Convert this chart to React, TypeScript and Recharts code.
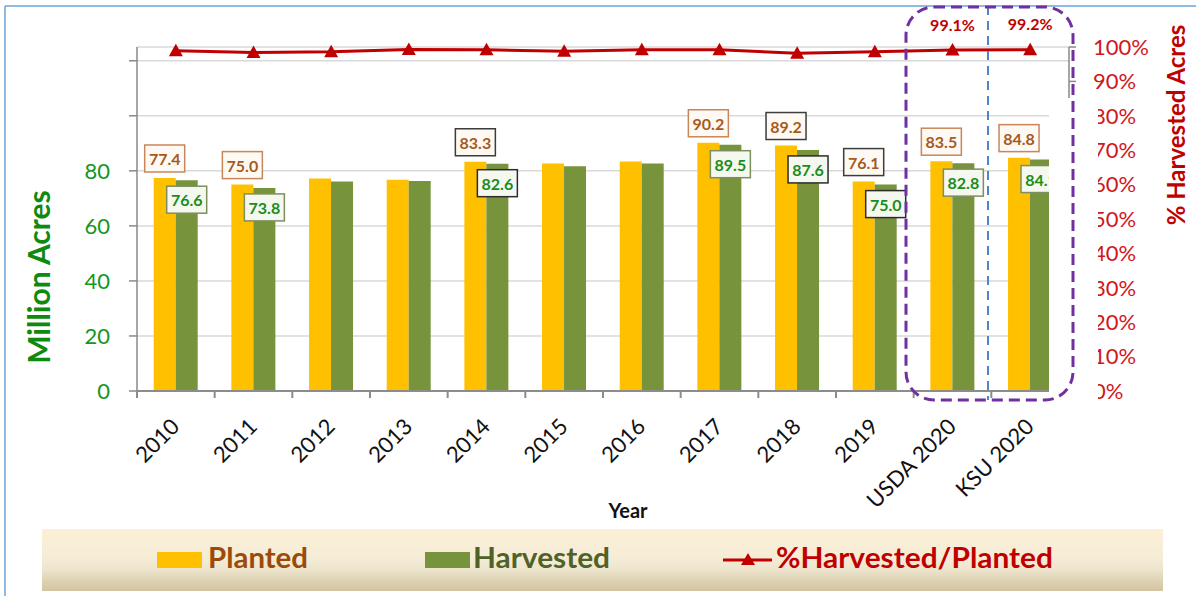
import React from 'react';
import { ComposedChart, Bar, Line, XAxis, YAxis, CartesianGrid, LabelList, Legend } from 'recharts';

const categories = ['2010', '2011', '2012', '2013', '2014', '2015', '2016', '2017', '2018', '2019', 'USDA 2020', 'KSU 2020'];
const planted = [77.4, 75.0, 77.2, 76.8, 83.3, 82.7, 83.4, 90.2, 89.2, 76.1, 83.5, 84.8];
const harvested = [76.6, 73.8, 76.1, 76.3, 82.6, 81.7, 82.7, 89.5, 87.6, 75.0, 82.8, 84.1];
const pctHarvested = [98.9, 98.4, 98.6, 99.3, 99.2, 98.8, 99.2, 99.2, 98.2, 98.6, 99.1, 99.2];
const barLabelShown = [true, true, false, false, true, false, false, true, true, true, true, true];
const darkLabelBorder = [false, false, false, false, true, false, false, false, true, true, false, false];
const pctLabelShown = [false, false, false, false, false, false, false, false, false, false, true, true];
const leftTicks = [0, 20, 40, 60, 80, 100, 120];
const leftTickMaxLabel = 80;
const rightTicks = [0, 10, 20, 30, 40, 50, 60, 70, 80, 90, 100];

const W = 1196;
const H = 596;
const PLOT_L = 137;
const PLOT_R = 1069;
const PLOT_T = 47;
const PLOT_B = 391;
const FONT = 'Lato, "Open Sans", sans-serif';

const data = categories.map((c, i) => ({
  name: c,
  planted: planted[i],
  harvested: harvested[i],
  pct: pctHarvested[i],
}));

const vbOf = (p: any) => {
  const vb = p.viewBox || {};
  return {
    x: p.x ?? vb.x,
    y: p.y ?? vb.y,
    width: p.width ?? vb.width ?? 0,
    height: p.height ?? vb.height ?? 0,
  };
};

const PlantedLabel = (props: any) => {
  const { index, value } = props;
  if (!barLabelShown[index]) return null;
  const { x, y, width } = vbOf(props);
  const cx = x + width / 2;
  const bw = 40;
  const bh = 27;
  const top = y - 6 - bh;
  return (
    <g>
      <rect x={cx - bw / 2} y={top} width={bw} height={bh} fill="#FFF9F3" stroke={darkLabelBorder[index] ? '#3c3c3c' : '#C8875A'} strokeWidth={1.5} />
      <text x={cx} y={top + bh / 2} dominantBaseline="central" textAnchor="middle" fontSize={16} fontWeight={700} fill="#A65A1E" fontFamily={FONT}>
        {Number(value).toFixed(1)}
      </text>
    </g>
  );
};

const HarvestedLabel = (props: any) => {
  const { index, value } = props;
  if (!barLabelShown[index]) return null;
  const { x, y, width } = vbOf(props);
  const cx = x + width / 2;
  const bw = 40;
  const bh = 27;
  const top = y + 6;
  return (
    <g>
      <rect x={cx - bw / 2} y={top} width={bw} height={bh} fill="#F5F8EF" stroke={darkLabelBorder[index] ? '#2c2c2c' : '#7E8F5E'} strokeWidth={1.5} />
      <text x={cx} y={top + bh / 2} dominantBaseline="central" textAnchor="middle" fontSize={16} fontWeight={700} fill="#1A8C1A" fontFamily={FONT}>
        {Number(value).toFixed(1)}
      </text>
    </g>
  );
};

const PctLabel = (props: any) => {
  const { index, value } = props;
  if (!pctLabelShown[index]) return null;
  const { x, y } = vbOf(props);
  return (
    <text x={x} y={y - 26} dominantBaseline="central" textAnchor="middle" fontSize={16} fontWeight={700} fill="#C00000" fontFamily={FONT}>
      {Number(value).toFixed(1)}%
    </text>
  );
};

const Triangle = (props: any) => {
  const { cx, cy } = props;
  if (cx == null || cy == null) return null;
  return <polygon points={`${cx},${cy - 7} ${cx - 7},${cy + 5.5} ${cx + 7},${cy + 5.5}`} fill="#C00000" />;
};

const XTick = (props: any) => {
  const { x, payload } = props;
  const half = (PLOT_R - PLOT_L) / categories.length / 2;
  const bx = x - half;
  const tx = x + 5;
  const ty = PLOT_B + 37;
  return (
    <g>
      <line x1={bx} y1={PLOT_B} x2={bx} y2={PLOT_B + 7} stroke="#8c8c8c" strokeWidth={2} />
      <text x={tx} y={ty} transform={`rotate(-45 ${tx} ${ty})`} textAnchor="end" fontSize={22} fill="#111" fontFamily={FONT}>
        {payload.value}
      </text>
    </g>
  );
};

const LegendBox = () => (
  <div
    style={{
      width: '100%',
      height: '100%',
      background: 'linear-gradient(to bottom, #FCEFD5 0%, #F6EDD8 45%, #EEE5CE 65%, #DDD0B2 85%, #D2C4A3 100%)',
    }}
  >
    <svg width={1121} height={62} style={{ display: 'block' }}>
      <rect x={115} y={23} width={45} height={16} fill="#FFC000" />
      <text x={166} y={39} fontSize={28} fontWeight={700} fill="#9C4A0A" fontFamily={FONT} textLength={100} lengthAdjust="spacingAndGlyphs">Planted</text>
      <rect x={383} y={23} width={45} height={16} fill="#77933C" />
      <text x={431} y={39} fontSize={28} fontWeight={700} fill="#4F6228" fontFamily={FONT} textLength={137} lengthAdjust="spacingAndGlyphs">Harvested</text>
      <line x1={681} y1={31} x2={730} y2={31} stroke="#C00000" strokeWidth={3} />
      <polygon points="706,24 699,36 713,36" fill="#C00000" />
      <text x={734} y={39} fontSize={28} fontWeight={700} fill="#C00000" fontFamily={FONT} textLength={277} lengthAdjust="spacingAndGlyphs">%Harvested/Planted</text>
    </svg>
  </div>
);

export default function App() {
  return (
    <div style={{ position: 'absolute', left: 0, top: 0, width: W, height: H, background: '#fff', fontFamily: FONT }}>
      <ComposedChart
        width={W}
        height={H}
        data={data}
        margin={{ top: PLOT_T, right: 0, bottom: 0, left: 0 }}
        barCategoryGap="21.5%"
        barGap={0}
      >
        <CartesianGrid yAxisId="left" vertical={false} stroke="#D9D9D9" strokeWidth={1.5} />
        <XAxis
          dataKey="name"
          height={H - PLOT_B}
          interval={0}
          tickLine={false}
          tickSize={0}
          tick={<XTick />}
          axisLine={{ stroke: '#8c8c8c', strokeWidth: 2 }}
          label={{
            content: () => (
              <text x={628} y={518} textAnchor="middle" fontSize={20} fontWeight={700} fill="#111" fontFamily={FONT}>
                Year
              </text>
            ),
          }}
        />
        <YAxis
          yAxisId="left"
          orientation="left"
          width={PLOT_L}
          domain={[0, 125]}
          ticks={leftTicks}
          interval={0}
          tickSize={8}
          tickMargin={19}
          tickFormatter={(v: number) => (v > leftTickMaxLabel ? '' : String(v))}
          tick={{ fill: '#14961E', fontSize: 22, fontFamily: FONT }}
          tickLine={{ stroke: '#898989', strokeWidth: 1.5 }}
          axisLine={{ stroke: '#898989', strokeWidth: 1.5 }}
          label={{
            content: () => (
              <text x={50} y={277} transform="rotate(-90 50 277)" textAnchor="middle" fontSize={30} fontWeight={700} fill="#0E8A0E" fontFamily={FONT}>
                Million Acres
              </text>
            ),
          }}
        />
        <YAxis
          yAxisId="right"
          orientation="right"
          width={W - PLOT_R}
          domain={[0, 100]}
          ticks={rightTicks}
          interval={0}
          tickSize={7}
          tickMargin={17}
          tickFormatter={(v: number) => `${v}%`}
          tick={{ fill: '#D2171C', fontSize: 22, fontFamily: FONT, textAnchor: 'start' }}
          tickLine={{ stroke: '#898989', strokeWidth: 1.5 }}
          axisLine={{ stroke: '#898989', strokeWidth: 1.5 }}
          label={{
            content: () => (
              <text x={1185} y={125} transform="rotate(-90 1185 125)" textAnchor="middle" fontSize={24} fontWeight={700} fill="#C00000" fontFamily={FONT}>
                % Harvested Acres
              </text>
            ),
          }}
        />
        <Legend
          layout="vertical"
          align="center"
          verticalAlign="middle"
          wrapperStyle={{ position: 'absolute', left: 42, top: 529, width: 1121, height: 62, margin: 0 }}
          content={() => <LegendBox />}
        />
        <Bar yAxisId="left" dataKey="planted" name="Planted" fill="#FFC000" isAnimationActive={false}>
          <LabelList dataKey="planted" content={<PlantedLabel />} />
        </Bar>
        <Bar yAxisId="left" dataKey="harvested" name="Harvested" fill="#77933C" isAnimationActive={false}>
          <LabelList dataKey="harvested" content={<HarvestedLabel />} />
        </Bar>
        <Line
          yAxisId="right"
          dataKey="pct"
          name="%Harvested/Planted"
          stroke="#C00000"
          strokeWidth={3}
          dot={<Triangle />}
          activeDot={false}
          isAnimationActive={false}
        >
          <LabelList dataKey="pct" content={<PctLabel />} />
        </Line>
      </ComposedChart>
      <svg width={W} height={H} style={{ position: 'absolute', left: 0, top: 0, pointerEvents: 'none' }}>
        <rect x={1049} y={98} width={49} height={302} fill="#fff" />
        <line x1={5} y1={6} x2={W} y2={6} stroke="#6AA3D8" strokeWidth={1.5} />
        <line x1={5} y1={6} x2={5} y2={H} stroke="#6AA3D8" strokeWidth={1.5} />
        <line x1={988} y1={6} x2={988} y2={400} stroke="#4A86C8" strokeWidth={2} strokeDasharray="9 6" />
        <rect x={906} y={7} width={167} height={393} rx={28} ry={28} fill="none" stroke="#7030A0" strokeWidth={3} strokeDasharray="11 6" />
      </svg>
    </div>
  );
}
